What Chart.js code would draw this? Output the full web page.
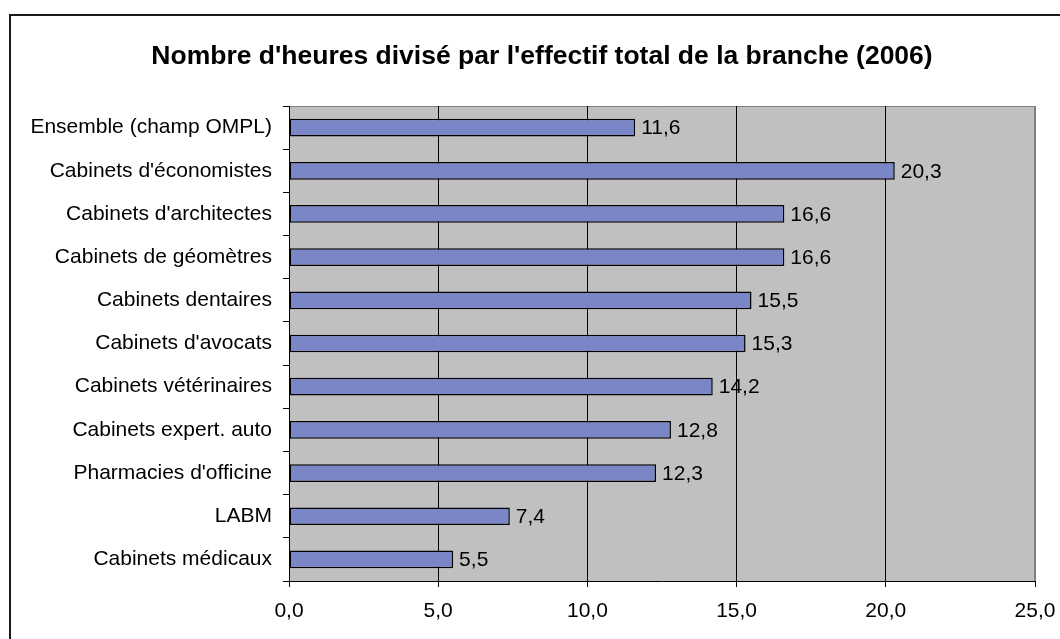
<!DOCTYPE html>
<html>
<head>
<meta charset="utf-8">
<script src="https://cdn.jsdelivr.net/npm/chart.js@4.4.1/dist/chart.umd.min.js"></script>
<style>
  html, body { margin: 0; padding: 0; background: #fff; }
  #wrap { width: 1060px; height: 639px; position: relative; }
</style>
</head>
<body>
<div id="wrap"><canvas id="chart" width="1060" height="639"></canvas></div>
<script>
// Data
const titleText = "Nombre d'heures divisé par l'effectif total de la branche (2006)";
const branches = [
    'Ensemble (champ OMPL)',
    "Cabinets d'économistes",
    "Cabinets d'architectes",
    'Cabinets de géomètres',
    'Cabinets dentaires',
    "Cabinets d'avocats",
    'Cabinets vétérinaires',
    'Cabinets expert. auto',
    "Pharmacies d'officine",
    'LABM',
    'Cabinets médicaux'
];
const heures = [11.6, 20.3, 16.6, 16.6, 15.5, 15.3, 14.2, 12.8, 12.3, 7.4, 5.5];
const xTicks = [0, 5, 10, 15, 20, 25];

const fmt = v => v.toFixed(1).replace('.', ',');
const FONT = 'Arial, "Liberation Sans", sans-serif';
const TXT = 21;

// gray plot area, frame, title and value labels
const decor = {
    id: 'decor',
    beforeDraw(chart) {
        const { ctx, chartArea: a } = chart;
        ctx.save();
        ctx.fillStyle = '#c0c0c0';
        ctx.fillRect(a.left, a.top, a.right - a.left, a.bottom - a.top);
        ctx.strokeStyle = '#808080';
        ctx.lineWidth = 1;
        ctx.beginPath();
        ctx.moveTo(a.left, a.top + 0.5);
        ctx.lineTo(a.right - 0.5, a.top + 0.5);
        ctx.lineTo(a.right - 0.5, a.bottom);
        ctx.stroke();
        // outer frame (only left and top visible)
        ctx.strokeStyle = '#1a1a1a';
        ctx.lineWidth = 2;
        ctx.beginPath();
        ctx.moveTo(10, 639);
        ctx.lineTo(10, 15);
        ctx.lineTo(1060, 15);
        ctx.stroke();
        ctx.fillStyle = '#000';
        ctx.font = 'bold 26.5px ' + FONT;
        ctx.textAlign = 'center';
        ctx.textBaseline = 'middle';
        ctx.fillText(titleText, 542, 57);
        ctx.restore();
    },
    afterDatasetsDraw(chart) {
        const { ctx } = chart;
        const meta = chart.getDatasetMeta(0);
        ctx.save();
        ctx.fillStyle = '#000';
        ctx.font = TXT + 'px ' + FONT;
        ctx.textAlign = 'left';
        ctx.textBaseline = 'middle';
        meta.data.forEach((bar, i) => {
            ctx.fillText(fmt(heures[i]), bar.x + 6, bar.y + 1);
        });
        ctx.restore();
    }
};

new Chart(document.getElementById('chart'), {
    type: 'bar',
    data: {
        labels: branches,
        datasets: [{
            data: heures,
            backgroundColor: '#7a86c6',
            borderColor: '#000',
            borderWidth: 1.5,
            borderSkipped: false,
            barPercentage: 0.41,
            categoryPercentage: 1
        }]
    },
    options: {
        indexAxis: 'y',
        responsive: false,
        animation: false,
        layout: { padding: { top: 106, right: 25, left: 0, bottom: 0 } },
        plugins: {
            legend: { display: false },
            tooltip: { enabled: false }
        },
        scales: {
            x: {
                min: 0,
                max: 25,
                afterBuildTicks: s => { s.ticks = xTicks.map(v => ({ value: v })); },
                afterFit: s => { s.height = 58; s.paddingLeft = 0; s.paddingRight = 0; },
                border: { color: '#000', width: 1 },
                grid: {
                    color: c => (c.tick && c.tick.value === 25) ? '#808080' : '#000',
                    tickColor: '#000',
                    tickLength: 6,
                    lineWidth: 1
                },
                ticks: {
                    color: '#000',
                    font: { family: FONT, size: TXT },
                    padding: 12,
                    maxRotation: 0,
                    callback: v => fmt(v)
                }
            },
            y: {
                afterFit: s => { s.width = 289; s.paddingTop = 0; s.paddingBottom = 0; },
                border: { color: '#000', width: 1 },
                grid: {
                    offset: true,
                    drawOnChartArea: false,
                    tickColor: '#000',
                    tickLength: 6
                },
                ticks: {
                    color: '#000',
                    font: { family: FONT, size: TXT },
                    padding: 11,
                    autoSkip: false
                }
            }
        }
    },
    plugins: [decor]
});
</script>
</body>
</html>
